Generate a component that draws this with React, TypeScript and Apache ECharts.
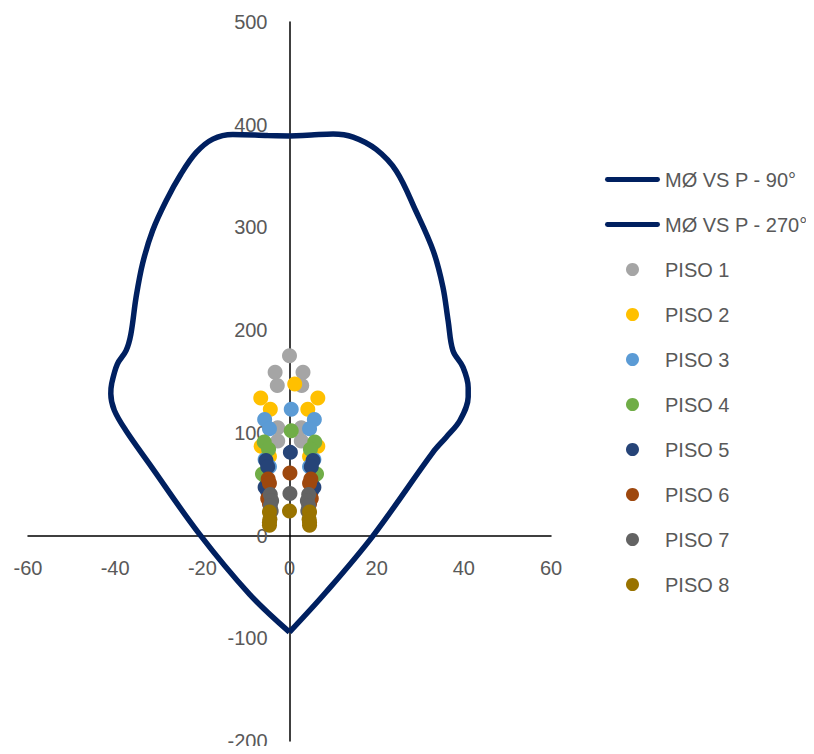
import React, { useEffect, useRef } from "react";
import * as echarts from "echarts";

const xTicks = [-60, -40, -20, 0, 20, 40, 60];
const yTicks = [-200, -100, 0, 100, 200, 300, 400, 500];

const curve90: [number, number][] = [
  [0, 389], [5, 390], [10, 391], [14.6, 388], [19.9, 376], [24.5, 355], [29, 316],
  [33, 277], [35.2, 242], [36.4, 209], [37.5, 180], [39.8, 164], [41, 144], [41, 135],
  [39.1, 112], [36, 96], [32.9, 81], [19.2, 0], [8.4, -55], [0, -94],
];
const curve270: [number, number][] = [
  [0, 389], [-5, 389.5], [-13, 390.5], [-17.6, 386], [-21.4, 373], [-24.9, 352],
  [-28.3, 326], [-31.4, 297], [-33.7, 265], [-35.2, 232], [-36.4, 196], [-37.5, 180],
  [-39.5, 167], [-40.8, 148], [-41, 138], [-40.2, 122], [-37.5, 102], [-32.2, 70],
  [-20.7, 1.6], [-9.2, -57], [0, -94],
];

const piso1: [number, number][] = [[0, 175], [-3.3, 159], [3.1, 159], [-2.8, 146], [2.8, 146], [-2.7, 105], [2.7, 105], [-2.7, 92], [2.7, 92]];
const piso2: [number, number][] = [[1.2, 147.5], [-6.6, 134], [6.5, 134], [-4.4, 123], [4.2, 123], [-6.5, 87], [6.5, 87], [-4.6, 77], [4.6, 77]];
const piso3: [number, number][] = [[0.4, 123], [-5.7, 113], [5.7, 113], [-4.6, 104], [4.6, 104], [-5.6, 74], [5.6, 74], [-4.6, 67], [4.6, 67]];
const piso4: [number, number][] = [[0.4, 102], [-5.8, 91], [5.8, 91], [-4.8, 84], [4.8, 84], [-6.2, 60], [6.2, 60], [-5.2, 55], [5.2, 55]];
const piso5: [number, number][] = [[0.2, 81], [-5.4, 73], [5.4, 73], [-5.0, 67], [5.0, 67], [-5.6, 47], [5.6, 47], [-5.0, 43], [5.0, 43]];
const piso6: [number, number][] = [[0.1, 61], [-4.9, 55], [4.9, 55], [-4.6, 51], [4.6, 51], [-5.0, 36], [5.0, 36], [-4.6, 31], [4.6, 31]];
const piso7: [number, number][] = [[0.1, 41], [-4.4, 40], [4.4, 40], [-4.1, 34], [4.1, 34], [-4.4, 29], [4.4, 29], [-4.2, 24], [4.2, 24]];
const piso8: [number, number][] = [[0, 24], [-4.6, 23], [4.6, 23], [-4.5, 16], [4.5, 16], [-4.6, 10], [4.6, 10], [-4.6, 13], [4.6, 13]];

const pisoNames = ["PISO 1", "PISO 2", "PISO 3", "PISO 4", "PISO 5", "PISO 6", "PISO 7", "PISO 8"];
const pisoData = [piso1, piso2, piso3, piso4, piso5, piso6, piso7, piso8];
const pisoColors = ["#A5A5A5", "#FFC000", "#5B9BD5", "#70AD47", "#264478", "#9E480E", "#636363", "#997300"];
const lineNames = ["MØ VS P - 90°", "MØ VS P - 270°"];
const lineColor = "#002060";

const FONT = "'Liberation Sans', 'DejaVu Sans', sans-serif";
const TEXT_COLOR = "#595959";

const GRID = { left: 28, right: 263, top: 22, bottom: 13 };
const W = 814;
const H = 754;

export default function App() {
  const ref = useRef<HTMLDivElement>(null);
  useEffect(() => {
    if (!ref.current) return;
    const chart = echarts.init(ref.current, null, { renderer: "svg" });
    const lineIcon = "path://M2,0 H53 A2.5,2.5 0 0 1 53,5 H2 A2.5,2.5 0 0 1 2,0 Z";
    const xMin = xTicks[0];
    const xMax = xTicks[xTicks.length - 1];
    const yMin = yTicks[0];
    const yMax = yTicks[yTicks.length - 1];
    const plotW = W - GRID.left - GRID.right;
    const plotH = H - GRID.top - GRID.bottom;
    // shift label-only axes from the grid edges to the zero lines
    const xLabelOffset = -((0 - yMin) / (yMax - yMin)) * plotH;
    const yLabelOffset = -((0 - xMin) / (xMax - xMin)) * plotW;
    const baseX = { type: "value", min: xMin, max: xMax, interval: 20, splitLine: { show: false }, axisTick: { show: false } };
    const baseY = { type: "value", min: yMin, max: yMax, interval: 100, splitLine: { show: false }, axisTick: { show: false } };
    const labelStyle = { color: TEXT_COLOR, fontSize: 20, fontFamily: FONT, margin: 22 };
    const option: any = {
      animation: false,
      backgroundColor: "#ffffff",
      textStyle: { fontFamily: FONT },
      grid: { ...GRID, containLabel: false, outerBoundsMode: "none" },
      xAxis: [
        {
          ...baseX,
          axisLine: { onZero: true, lineStyle: { color: "#000", width: 1.5 } },
          axisLabel: { show: false },
        },
        {
          ...baseX,
          position: "bottom",
          offset: xLabelOffset,
          axisLine: { show: false, onZero: false },
          axisLabel: labelStyle,
        },
      ],
      yAxis: [
        {
          ...baseY,
          axisLine: { onZero: true, lineStyle: { color: "#000", width: 1.5 } },
          axisLabel: { show: false },
        },
        {
          ...baseY,
          position: "left",
          offset: yLabelOffset,
          axisLine: { show: false, onZero: false },
          axisLabel: labelStyle,
        },
      ],
      legend: {
        orient: "vertical",
        left: 600,
        top: 164,
        padding: 5,
        itemWidth: 55,
        itemHeight: 13,
        itemGap: 24,
        symbolKeepAspect: true,
        textStyle: { color: TEXT_COLOR, fontSize: 20, fontFamily: FONT, lineHeight: 21 },
        data: [
          ...lineNames.map((n) => ({ name: n, icon: lineIcon, itemStyle: { color: lineColor } })),
          ...pisoNames.map((n, i) => ({ name: n, icon: "circle", itemStyle: { color: pisoColors[i] } })),
        ],
      },
      series: [
        ...[curve90, curve270].map((d, i) => ({
          name: lineNames[i],
          type: "line",
          data: d,
          smooth: 0.35,
          symbol: "none",
          lineStyle: { color: lineColor, width: 5.5 },
          itemStyle: { color: lineColor },
          z: 2,
        })),
        ...pisoData.map((d, i) => ({
          name: pisoNames[i],
          type: "scatter",
          data: d,
          symbol: "circle",
          symbolSize: 15,
          itemStyle: { color: pisoColors[i], opacity: 1 },
          z: 3,
        })),
      ],
    };
    chart.setOption(option);
    return () => chart.dispose();
  }, []);
  return <div ref={ref} style={{ width: W, height: H, margin: -8 }} />;
}
